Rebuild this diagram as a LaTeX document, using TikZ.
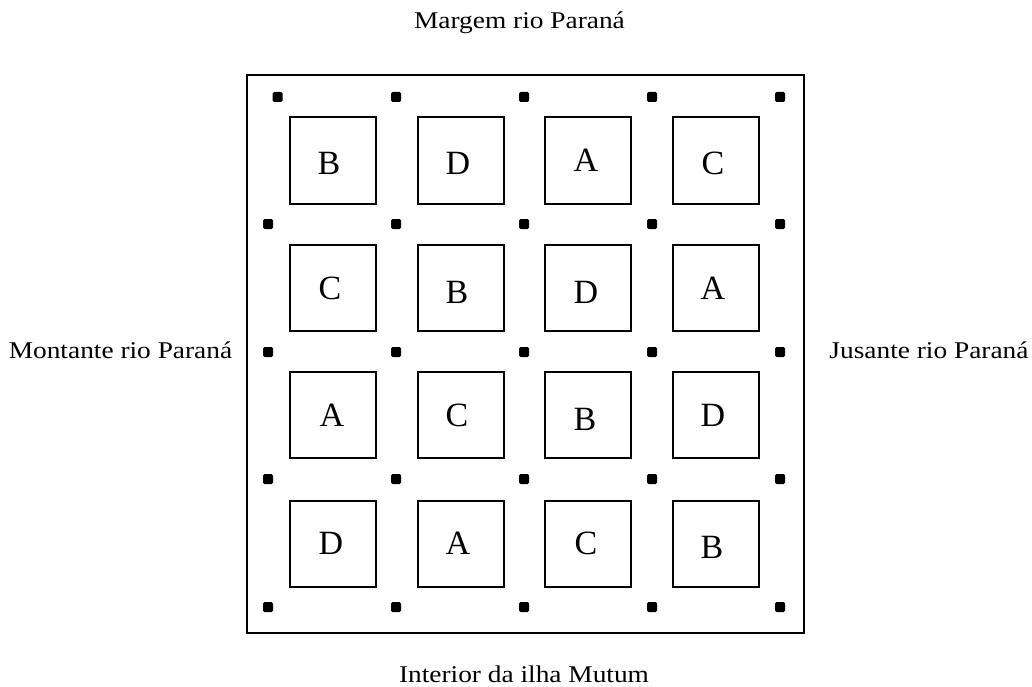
\documentclass[tikz,border=0pt]{standalone}
\usepackage{fontspec}
\setmainfont{Liberation Serif}
\usepackage{graphicx}
\begin{document}
\begin{tikzpicture}[x=1pt,y=-1pt,
  plot/.style={draw=black,line width=2pt,minimum size=86pt,inner sep=0pt},
  letter/.style={inner sep=0pt,font=\fontsize{34}{34}\selectfont},
  side/.style={inner sep=0pt,anchor=base,font=\fontsize{24}{24}\selectfont},
  post/.style={fill=black,rounded corners=1.5pt,minimum size=10pt,inner sep=0pt}]
\useasboundingbox (0,0) rectangle (1032,687);
\node[draw=black,line width=2.5pt,minimum width=557pt,minimum height=558pt,inner sep=0pt] (field) at (525.5,354) {};
% plots
\foreach \c/\x in {1/332.5,2/460.5,3/588,4/715.5}{
  \foreach \r/\y in {1/160.5,2/288,3/415,4/543.5}{
    \node[plot] (p\r\c) at (\x,\y) {};
  }
}
% letters
\node[letter] (l11) at (329,163) {B};
\node[letter] (l12) at (458,163) {D};
\node[letter] (l13) at (586,160) {A};
\node[letter] (l14) at (713,163) {C};
\node[letter] (l21) at (330,288) {C};
\node[letter] (l22) at (457,292) {B};
\node[letter] (l23) at (586,292) {D};
\node[letter] (l24) at (713,288) {A};
\node[letter] (l31) at (332,415) {A};
\node[letter] (l32) at (457,415) {C};
\node[letter] (l33) at (585,419) {B};
\node[letter] (l34) at (713,415) {D};
\node[letter] (l41) at (331,543) {D};
\node[letter] (l42) at (458,543) {A};
\node[letter] (l43) at (586,543) {C};
\node[letter] (l44) at (712,547) {B};
% posts
\node[post] (d11) at (277.5,97) {};
\foreach \c/\x in {2/396,3/524,4/652,5/780}{
  \node[post] (d1\c) at (\x,97) {};
}
\foreach \r/\y in {2/224,3/352,4/479,5/607}{
  \foreach \c/\x in {1/268,2/396,3/524,4/652,5/780}{
    \node[post] (d\r\c) at (\x,\y) {};
  }
}
% side labels
\node[side] (top) at (519.5,29) {\scalebox{1.14}[1]{Margem rio Paraná}};
\node[side] (left) at (120.5,358) {\scalebox{1.14}[1]{Montante rio Paraná}};
\node[side] (right) at (929,358) {\scalebox{1.14}[1]{Jusante rio Paraná}};
\node[side] (bottom) at (524,682) {\scalebox{1.14}[1]{Interior da ilha Mutum}};
\end{tikzpicture}
\end{document}
